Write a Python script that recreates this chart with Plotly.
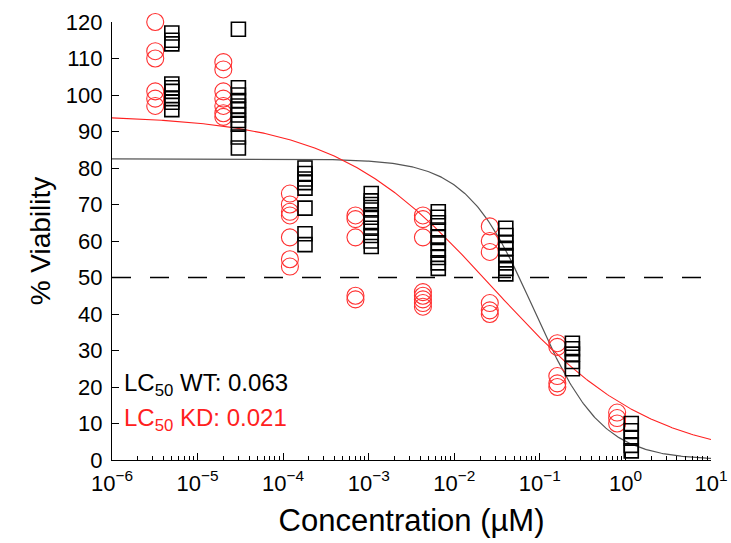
import numpy as np
import plotly.graph_objects as go

# ---- data ----
kd_conc = [3.2e-6]*6 + [2e-5]*7 + [1.2e-4]*7 + [7e-4]*5 + [4.3e-3]*8 + [0.026]*6 + [0.16]*5 + [0.8]*3
kd_viab = [120, 112, 110, 101, 99, 97,
           109, 107, 101, 99, 97, 95, 94,
           73, 70, 68, 67, 61, 55, 53,
           67, 66, 61, 45, 44,
           67, 66, 61, 46, 45, 44, 43, 42,
           64, 60, 57, 43, 41, 40,
           32, 31, 23, 21, 20,
           13, 11.5, 10]

wt_conc = [5e-6]*9 + [3e-5]*11 + [1.8e-4]*8 + [1.07e-3]*10 + [6.5e-3]*10 + [0.04]*8 + [0.24]*5 + [1.17]*5
wt_viab = [117, 115, 114, 103, 102, 101, 99, 98, 96,
           118, 102, 100, 98.5, 97, 96, 94.5, 93, 92, 88.5, 85.5,
           80, 78.5, 77, 76, 74.5, 69, 62, 59,
           73, 71, 70, 68.5, 66.5, 65, 63.5, 61.5, 60, 58.5,
           68, 66.5, 65, 63, 61, 59.5, 57.5, 55.5, 54, 52.5,
           63.5, 61.5, 59.5, 58, 56, 54, 52.5, 51,
           32, 30.5, 29, 27, 25,
           10, 8, 6, 4, 2.5]

# fitted dose-response parameters (top, bottom, EC50, Hill slope)
wt_fit = dict(top=82.5, bottom=0.0, ec50=0.085, hill=1.1)
kd_fit = dict(top=94.5, bottom=0.0, ec50=0.028, hill=0.47)

x_ticks = [1e-6, 1e-5, 1e-4, 1e-3, 1e-2, 1e-1, 1, 10]
x_ticktext = ["10<sup>−6</sup>", "10<sup>−5</sup>", "10<sup>−4</sup>", "10<sup>−3</sup>",
              "10<sup>−2</sup>", "10<sup>−1</sup>", "10<sup>0</sup>", "10<sup>1</sup>"]
y_ticks = list(range(0, 121, 10))


def hill(x, p):
    return p["bottom"] + (p["top"] - p["bottom"]) / (1 + (x / p["ec50"]) ** p["hill"])


xs = np.logspace(-6, 1, 400)
FONT = "Liberation Sans, Arial, sans-serif"

fig = go.Figure()
fig.add_trace(go.Scatter(x=[1e-6, 10], y=[50, 50], mode="lines",
                         line=dict(color="black", width=1.3, dash="19px,19px"),
                         showlegend=False, hoverinfo="skip"))
fig.add_trace(go.Scatter(x=xs, y=hill(xs, wt_fit), mode="lines",
                         line=dict(color="#555555", width=1.2), showlegend=False))
fig.add_trace(go.Scatter(x=xs, y=hill(xs, kd_fit), mode="lines",
                         line=dict(color="#ff2020", width=1.1), showlegend=False))
fig.add_trace(go.Scatter(x=kd_conc, y=kd_viab, mode="markers", cliponaxis=False,
                         marker=dict(symbol="circle-open", size=17, color="#ff3030",
                                     line=dict(width=1.1)), showlegend=False))
fig.add_trace(go.Scatter(x=wt_conc, y=wt_viab, mode="markers", cliponaxis=False,
                         marker=dict(symbol="square-open", size=14, color="black",
                                     line=dict(width=1.6)), showlegend=False))

fig.add_annotation(x=0.016, y=0.172, xref="paper", yref="paper", xanchor="left",
                   yanchor="middle", showarrow=False,
                   text="LC<sub>50</sub> WT: 0.063",
                   font=dict(size=24, color="black", family=FONT))
fig.add_annotation(x=0.016, y=0.092, xref="paper", yref="paper", xanchor="left",
                   yanchor="middle", showarrow=False,
                   text="LC<sub>50</sub> KD: 0.021",
                   font=dict(size=24, color="#ff2020", family=FONT))

fig.update_xaxes(type="log", range=[-6, 1], tickvals=x_ticks, ticktext=x_ticktext,
                 automargin=False, ticklabelstandoff=3,
                 showline=True, linecolor="black", linewidth=1.3, mirror=False,
                 ticks="inside", ticklen=7, tickcolor="black", tickwidth=1.2,
                 minor=dict(ticks="inside", ticklen=4, tickcolor="black", tickwidth=1,
                            dtick="D1", showgrid=False),
                 showgrid=False, zeroline=False,
                 tickfont=dict(size=22, color="black", family=FONT),
                 title=dict(text="Concentration (µM)", font=dict(size=31, color="black", family=FONT),
                            standoff=14))
fig.update_yaxes(range=[0, 120], tickvals=y_ticks, automargin=False,
                 showline=True, linecolor="black", linewidth=1.3,
                 ticks="inside", ticklen=7, tickcolor="black", tickwidth=1.2,
                 showgrid=False, zeroline=False, ticklabelstandoff=4,
                 tickfont=dict(size=22, color="black", family=FONT),
                 title=dict(text="% Viability", font=dict(size=28, color="black", family=FONT),
                            standoff=6))
fig.update_layout(width=731, height=543, margin=dict(l=112, r=20, t=22, b=83),
                  plot_bgcolor="white", paper_bgcolor="white",
                  font=dict(family=FONT, color="black"))
fig.write_html("out.html")
